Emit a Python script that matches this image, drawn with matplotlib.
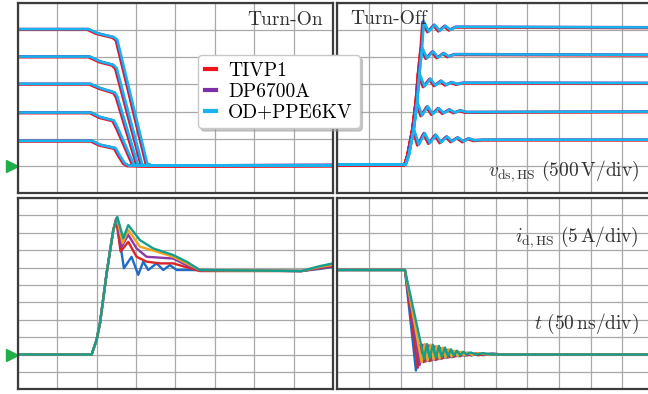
"""
Double-pulse switching waveforms: drain-source voltage and drain current of
the high-side device at turn-on and turn-off, measured with three probes.
"""

import matplotlib.pyplot as plt
from matplotlib.lines import Line2D
import numpy as np

plt.rcParams['font.family'] = ['cmr10', 'DejaVu Serif']
plt.rcParams['mathtext.fontset'] = 'cm'
plt.rcParams['axes.unicode_minus'] = False

# Probes used for the voltage measurement
probes = ["TIVP1", "DP6700A", "OD+PPE6KV"]
probe_colors = ["#f0141e", "#7a30a8", "#18b4ee"]
# small skew between the probes (ns) and level offset (V)
probe_skew_on = [-1.0, 0.0, 1.0]
probe_skew_off = [-1.5, 0.0, 1.0]
probe_offset = [-12, 4, 0]

# Turn-on v_ds (t in ns, v in V) for the five bus voltages
von_t_2500 = [0, 89.2, 99.9, 121.0, 125.2, 163.3, 169.7, 400]
von_v_2500 = [2518, 2518, 2444, 2370, 2321, 37, 5, 10]
von_t_2000 = [0, 90.5, 104.0, 120.2, 124.4, 157.0, 163.0, 400]
von_v_2000 = [2013, 2013, 1921, 1860, 1799, 18, 5, 10]
von_t_1500 = [0, 91.4, 104.0, 122.2, 125.2, 151.4, 157.0, 400]
von_v_1500 = [1510, 1510, 1431, 1350, 1277, 18, 5, 10]
von_t_1000 = [0, 92.3, 104.0, 121.0, 126.0, 146.3, 152.0, 400]
von_v_1000 = [982, 982, 897, 835, 694, 18, 5, 10]
von_t_500 = [0, 93.5, 104.0, 123.1, 128.6, 134.5, 140.0, 400]
von_v_500 = [460, 460, 387, 326, 184, 50, 5, 10]

# Turn-off v_ds
voff_t_500 = [0, 107, 112, 119.9, 127.8, 137.2, 145.1, 155.1, 163.0, 172.5,
              180.4, 189.8, 198.8, 207, 216, 230, 500]
voff_v_500 = [20, 20, 200, 682, 387, 602, 418, 571, 430, 540,
              448, 522, 448, 505, 470, 480, 480]
voff_t_1000 = [0, 107, 112, 119.9, 125.2, 133.0, 142.0, 149.9, 159.3, 167.2,
               176.7, 184.6, 194, 203, 500]
voff_v_1000 = [20, 20, 200, 682, 1185, 927, 1093, 952, 1062, 970,
               1038, 982, 1020, 990, 1000]
voff_t_1500 = [0, 107, 112, 119.9, 125.2, 128.8, 136.7, 146.2, 154.1, 163.5,
               171.4, 180.4, 189, 198, 500]
voff_v_1500 = [20, 20, 200, 682, 1185, 1707, 1461, 1603, 1480, 1566,
               1492, 1541, 1505, 1530, 1525]
voff_t_2000 = [0, 107, 112, 119.9, 125.2, 128.8, 133.0, 140.9, 150.4, 158.3,
               167.7, 175.1, 185, 500]
voff_v_2000 = [20, 20, 200, 682, 1185, 1707, 2180, 1983, 2106, 1995,
               2075, 2014, 2055, 2045]
voff_t_2500 = [0, 107, 112, 119.9, 125.2, 128.8, 133.0, 135.7, 143.6, 153.0,
               160.9, 169.8, 177.7, 187, 500]
voff_v_2500 = [20, 20, 200, 682, 1185, 1707, 2180, 2659, 2474, 2597,
               2487, 2579, 2505, 2560, 2550]

# Drain current traces (t in ns, i in A)
current_colors = ["#1f6cc4", "#d7262a", "#8c3aa6", "#f5a21c", "#149e8e"]

ion_t_1 = [0, 93.5, 99.8, 104.1, 112.5, 121.0, 125.2, 134.5, 144.2, 152.7, 159.0,
           165.4, 176.0, 184.4, 192.9, 201.4, 214.0, 360, 383, 400]
ion_i_1 = [0, 0, 4.2, 9.0, 23.3, 35.8, 38.8, 24.8, 28.1, 22.9, 26.7,
           24.3, 26.2, 24.3, 25.7, 24.3, 24.3, 24.0, 24.6, 25.2]
ion_t_2 = [0, 93.5, 99.8, 104.1, 112.5, 121.0, 124.4, 130.3, 140.0, 150.6,
           163.3, 180.2, 197.1, 214.0, 231.0, 360, 383, 400]
ion_i_2 = [0, 0, 4.2, 9.0, 23.3, 35.8, 39.0, 29.6, 32.4, 28.1,
           26.7, 26.2, 26.2, 25.1, 24.0, 24.0, 24.8, 25.4]
ion_t_3 = [0, 93.5, 99.8, 104.1, 112.5, 121.0, 125.2, 131.6, 140.0, 150.6,
           163.3, 197.0, 214.0, 231.0, 360, 383, 400]
ion_i_3 = [0, 0, 4.2, 9.0, 23.3, 35.8, 39.2, 31.0, 34.4, 30.5,
           28.1, 27.6, 25.7, 24.3, 24.0, 25.0, 25.6]
ion_t_4 = [0, 93.5, 99.8, 104.1, 112.5, 121.0, 125.6, 132.8, 140.0, 154.8,
           176.0, 197.1, 214.0, 231.0, 360, 383, 400]
ion_i_4 = [0, 0, 4.2, 9.0, 23.3, 35.8, 39.3, 32.0, 35.8, 31.0,
           29.6, 28.1, 26.2, 24.3, 24.0, 25.2, 25.8]
ion_t_5 = [0, 93.5, 99.8, 104.1, 112.5, 121.0, 126.1, 133.7, 140.0, 154.8,
           171.7, 197.1, 214.0, 231.0, 360, 383, 400]
ion_i_5 = [0, 0, 4.2, 9.0, 23.3, 35.8, 39.6, 33.4, 37.2, 32.9,
           30.5, 28.6, 26.7, 24.3, 24.0, 25.4, 26.2]

ioff_t_1 = [0, 106.8, 124.1, 129, 133.5, 138.5, 143, 148, 152.5, 157.5, 162, 167,
            171.5, 176.5, 181, 186, 191, 196, 201, 206, 212, 220, 230, 245, 260, 500]
ioff_i_1 = [24.3, 24.3, -4.6, 2.8, -2.0, 2.6, -1.8, 2.2, -1.5, 2.0, -1.3, 1.6,
            -1.0, 1.2, -0.8, 0.9, -0.5, 0.6, -0.4, 0.5, -0.3, 0.4, -0.2, 0.3, 0, 0]
ioff_t_2 = [0, 106.8, 127.0, 132, 136.5, 141.5, 146, 151, 155.5, 160.5, 165, 170,
            174.5, 179.5, 184, 189, 194, 199, 205, 212, 222, 240, 260, 500]
ioff_i_2 = [24.3, 24.3, -3.8, 2.6, -2.2, 2.5, -1.9, 2.2, -1.6, 1.9, -1.2, 1.5,
            -0.9, 1.1, -0.7, 0.8, -0.5, 0.6, -0.3, 0.4, -0.2, 0.2, 0, 0]
ioff_t_3 = [0, 106.8, 130.0, 135, 139.5, 144.5, 149, 154, 158.5, 163.5, 168, 173,
            177.5, 182.5, 187, 192, 197, 203, 210, 220, 235, 500]
ioff_i_3 = [24.3, 24.3, -3.0, 2.8, -2.0, 2.6, -1.7, 2.3, -1.4, 1.8, -1.0, 1.4,
            -0.8, 1.0, -0.5, 0.7, -0.3, 0.5, -0.2, 0.3, 0, 0]
ioff_t_4 = [0, 106.8, 133.0, 138, 142.5, 147.5, 152, 157, 161.5, 166.5, 171, 176,
            180.5, 185.5, 190, 195, 200, 206, 213, 222, 238, 500]
ioff_i_4 = [24.3, 24.3, -2.2, 3.0, -1.8, 2.8, -1.5, 2.4, -1.2, 2.0, -0.9, 1.5,
            -0.6, 1.1, -0.4, 0.8, -0.2, 0.6, -0.1, 0.4, 0, 0]
ioff_t_5 = [0, 106.8, 137.0, 141.5, 146, 151, 155.5, 160.5, 165, 170, 174.5, 179.5,
            184, 189, 194, 199, 204, 210, 220, 230, 245, 500]
ioff_i_5 = [24.3, 24.3, -1.2, 3.0, -1.0, 2.8, -0.9, 2.5, -0.7, 2.0, -0.5, 1.5,
            -0.3, 1.1, -0.2, 0.8, 0, 0.6, 0, 0.4, 0, 0]

von_traces = [(von_t_500, von_v_500), (von_t_1000, von_v_1000), (von_t_1500, von_v_1500),
              (von_t_2000, von_v_2000), (von_t_2500, von_v_2500)]
voff_traces = [(voff_t_500, voff_v_500), (voff_t_1000, voff_v_1000),
               (voff_t_1500, voff_v_1500), (voff_t_2000, voff_v_2000),
               (voff_t_2500, voff_v_2500)]
ion_traces = [(ion_t_1, ion_i_1), (ion_t_2, ion_i_2), (ion_t_3, ion_i_3),
              (ion_t_4, ion_i_4), (ion_t_5, ion_i_5)]
ioff_traces = [(ioff_t_1, ioff_i_1), (ioff_t_2, ioff_i_2), (ioff_t_3, ioff_i_3),
               (ioff_t_4, ioff_i_4), (ioff_t_5, ioff_i_5)]

W, H = 648, 394
fig = plt.figure(figsize=(W / 100, H / 100), dpi=100)


def px_axes(x0, y0, x1, y1):
    return fig.add_axes([x0 / W, 1 - y1 / H, (x1 - x0) / W, (y1 - y0) / H])


ax_von = px_axes(18, 3, 333, 193)
ax_voff = px_axes(337.3, 3, 654, 193)
ax_ion = px_axes(18, 198, 333, 389.3)
ax_ioff = px_axes(337.3, 198, 654, 389.3)

# scope grid: 50 ns/div, 500 V/div, 5 A/div
for ax, tmax in [(ax_von, 400), (ax_voff, 500), (ax_ion, 400), (ax_ioff, 500)]:
    ax.set_xlim(0, tmax)
    ax.set_xticks(np.arange(0, tmax + 1, 50))
for ax in (ax_von, ax_voff):
    ax.set_ylim(-500, 3000)
    ax.set_yticks(np.arange(-500, 3001, 500))
for ax in (ax_ion, ax_ioff):
    ax.set_ylim(-10, 45)
    ax.set_yticks(np.arange(-10, 46, 5))

for ax in (ax_von, ax_voff, ax_ion, ax_ioff):
    ax.grid(True, color='#a8a8a8', linewidth=0.9)
    ax.set_axisbelow(True)
    ax.tick_params(length=0, labelbottom=False, labelleft=False)
    for s in ax.spines.values():
        s.set_color('#3c3c3c')
        s.set_linewidth(1.6)

# voltage traces
for ax, traces, skews in [(ax_von, von_traces, probe_skew_on),
                          (ax_voff, voff_traces, probe_skew_off)]:
    for k, color in enumerate(probe_colors):
        for t, v in traces:
            ax.plot(np.array(t) + skews[k], np.array(v) + probe_offset[k],
                    color=color, lw=1.8, solid_joinstyle='round')

# current traces
for ax, traces in [(ax_ion, ion_traces), (ax_ioff, ioff_traces)]:
    for (t, i), color in zip(traces, current_colors):
        ax.plot(t, i, color=color, lw=1.7, solid_joinstyle='round')

# ground reference markers
for ax in (ax_von, ax_ion):
    ax.plot([-0.019], [0], marker='>', ms=9, color='#1fae48',
            transform=ax.get_yaxis_transform(), clip_on=False)

txt = dict(fontsize=14, color='#333333')
ax_von.text(0.968, 0.955, "Turn-On", transform=ax_von.transAxes,
            ha='right', va='top', **txt)
ax_voff.text(0.04, 0.965, "Turn-Off", transform=ax_voff.transAxes,
             ha='left', va='top', **txt)
ax_voff.text(0.952, 0.115, r"$v_{\mathrm{ds,HS}}\ (500\,\mathrm{V/div})$",
             transform=ax_voff.transAxes, ha='right', va='center', **txt)
ax_ioff.text(0.952, 0.796, r"$i_{\mathrm{d,HS}}\ (5\,\mathrm{A/div})$",
             transform=ax_ioff.transAxes, ha='right', va='center', **txt)
ax_ioff.text(0.952, 0.341, r"$t\ (50\,\mathrm{ns/div})$",
             transform=ax_ioff.transAxes, ha='right', va='center', **txt)

handles = [Line2D([], [], color=c, lw=3) for c in probe_colors]
leg = fig.legend(handles, probes, loc='upper left',
                 bbox_to_anchor=(198 / W, 1 - 55 / H), fontsize=14,
                 handlelength=0.6, handletextpad=0.6, labelspacing=0.15,
                 borderpad=0.35, borderaxespad=0, framealpha=1,
                 edgecolor='#c8c8c8', fancybox=True,
                 shadow={'color': '#999999', 'alpha': 0.5})
leg.get_frame().set_linewidth(1.0)

fig.savefig("out.png", dpi=100)
